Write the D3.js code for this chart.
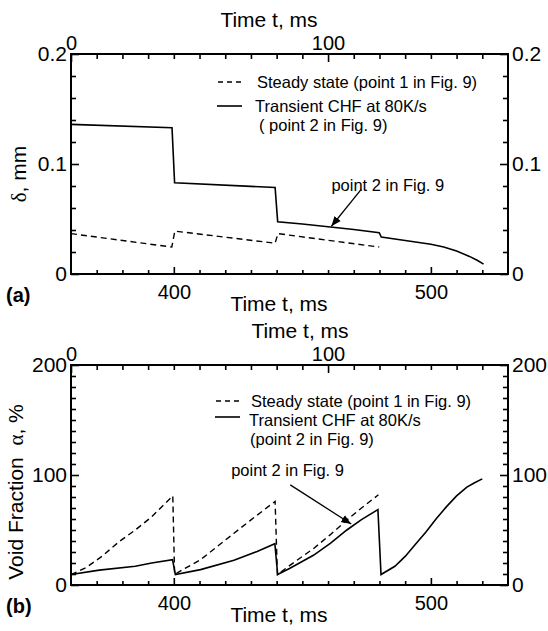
<!DOCTYPE html>
<html>
<head>
<meta charset="utf-8">
<script src="https://cdn.jsdelivr.net/npm/d3@7"></script>
<style>
  body { margin: 0; background: #fff; }
  svg { display: block; font-family: "Liberation Sans", Arial, sans-serif; }
  text { white-space: pre; }
</style>
</head>
<body>
<svg id="chart" width="548" height="631"></svg>
<script>
// Time axis, ms (bottom = absolute, top = elapsed)
const timeDomain = [360, 530];
const elapsedDomain = [0, 170];
const timeLabels = [400, 500];
const elapsedLabels = [0, 100];
const timeMinor = [370, 380, 390, 410, 420, 430, 440, 450, 460, 470, 480, 490, 510, 520];
const elapsedMinor = [10, 20, 30, 40, 50, 60, 70, 80, 90, 110, 120, 130, 140, 150, 160];

// Panel (a): liquid film thickness delta, mm
const deltaLabels = [0, 0.1, 0.2];
const deltaMinor = [0.02, 0.04, 0.06, 0.08, 0.12, 0.14, 0.16, 0.18];
const deltaSteady = [[360, 0.0367], [399.2, 0.0245], [400.4, 0.039], [439.4, 0.028], [440.5, 0.0367], [479.9, 0.0245]];
const deltaTransient = [[360, 0.136], [399.3, 0.133], [400.3, 0.083], [439.4, 0.0786], [440.4, 0.0474],
  [450, 0.0455], [460, 0.043], [470, 0.0405], [479.9, 0.0376], [480.7, 0.0336], [490, 0.0305],
  [500, 0.027], [505, 0.0245], [510, 0.021], [515, 0.016], [518, 0.0125], [520.5, 0.009]];

// Panel (b): void fraction alpha, %
const voidLabels = [0, 100, 200];
const voidMinor = [10, 20, 30, 40, 50, 60, 70, 80, 90, 110, 120, 130, 140, 150, 160, 170, 180, 190];
const voidSteady = [[360, 9.5], [366, 16], [372, 26], [378.5, 39], [385, 50], [391.4, 62], [399.6, 81],
  [400.3, 9.5], [402, 12], [410.4, 23], [416.9, 35], [423.4, 47], [429.9, 59], [439.4, 76],
  [440.3, 9.5], [447, 21], [454.3, 33], [461, 46], [467.3, 59], [473, 70], [479.6, 82]];
const voidTransient = [[360, 9.5], [371, 13.5], [385, 17], [391.4, 20], [399.5, 23], [400.6, 9.5],
  [410.4, 14], [423.4, 22.5], [432.4, 30.5], [439.3, 37.5], [440.4, 9.5], [445, 15], [454.3, 27],
  [461, 38], [467.3, 50], [473, 59.5], [479.4, 68.5], [480.6, 9.5], [486, 17], [490, 26], [494, 37],
  [498, 48], [502, 60], [506, 71], [510, 81], [514, 89], [517, 93], [520, 96.5]];

const legendSteady = "Steady state (point 1 in Fig. 9)";
const legendTransient = "Transient CHF at 80K/s";

const svg = d3.select("#chart");
const x0 = 71, x1 = 508, panelH = 220;

svg.append("defs").append("marker")
    .attr("id", "arrow")
    .attr("markerUnits", "userSpaceOnUse")
    .attr("markerWidth", 12).attr("markerHeight", 12)
    .attr("refX", 10).attr("refY", 5)
    .attr("orient", "auto")
  .append("path")
    .attr("d", "M0,1 L10,5 L0,9 Z")
    .attr("fill", "#000");

function styleAxis(g, size) {
    g.select(".domain").remove();
    g.selectAll(".tick line").attr("stroke", "#000").attr("stroke-width", 1.6);
    g.selectAll("text").attr("fill", "#000").attr("font-size", size)
        .attr("font-family", "'Liberation Sans', Arial, sans-serif");
}

function drawPanel(p) {
    const g = svg.append("g").attr("transform", "translate(0," + p.top + ")");
    const x = d3.scaleLinear().domain(timeDomain).range([x0, x1]);
    const xt = d3.scaleLinear().domain(elapsedDomain).range([x0, x1]);
    const y = d3.scaleLinear().domain([p.labels[0], p.labels[2]]).range([panelH, 0]);

    // minor + major ticks, all pointing inward
    g.append("g").attr("transform", "translate(0," + panelH + ")")
        .call(d3.axisBottom(x).tickValues(timeMinor).tickSize(-4).tickFormat(""))
        .call(styleAxis, 20);
    g.append("g").attr("transform", "translate(0," + panelH + ")")
        .call(d3.axisBottom(x).tickValues(timeLabels).tickSize(-7).tickPadding(11))
        .call(styleAxis, 20);
    g.append("g")
        .call(d3.axisTop(xt).tickValues(elapsedMinor).tickSize(-5).tickFormat(""))
        .call(styleAxis, 20);
    g.append("g")
        .call(d3.axisTop(xt).tickValues(elapsedLabels).tickSize(-8).tickPadding(4))
        .call(styleAxis, 20);
    [["L", x0], ["R", x1]].forEach(function (side) {
        const mk = side[0] === "L" ? d3.axisLeft : d3.axisRight;
        g.append("g").attr("transform", "translate(" + side[1] + ",0)")
            .call(mk(y).tickValues(p.minor).tickSize(-5).tickFormat(""))
            .call(styleAxis, 20);
        g.append("g").attr("transform", "translate(" + side[1] + ",0)")
            .call(mk(y).tickValues(p.labels).tickSize(-8).tickPadding(4).tickFormat(p.fmt))
            .call(styleAxis, 21);
    });

    g.append("rect")
        .attr("x", x0).attr("y", 0)
        .attr("width", x1 - x0).attr("height", panelH)
        .attr("fill", "none").attr("stroke", "#000").attr("stroke-width", 2);

    const line = d3.line().x(d => x(d[0])).y(d => y(d[1]));
    g.append("path").datum(p.steady).attr("d", line)
        .attr("fill", "none").attr("stroke", "#000").attr("stroke-width", 1.4)
        .attr("stroke-dasharray", "6,4");
    g.append("path").datum(p.transient).attr("d", line)
        .attr("fill", "none").attr("stroke", "#000").attr("stroke-width", 1.6);

    // axis titles
    g.append("text").attr("x", p.topTitleX).attr("y", -27)
        .attr("text-anchor", "middle").attr("font-size", 21).text("Time t, ms");
    g.append("text").attr("x", 279).attr("y", panelH + 37)
        .attr("text-anchor", "middle").attr("font-size", 21).text("Time t, ms");
    const yt = g.append("text")
        .attr("transform", "translate(" + p.yTitleX + "," + p.yTitleY + ") rotate(-90)")
        .attr("text-anchor", "middle").attr("font-size", 21);
    yt.append("tspan").text(p.yTitle[0]);
    yt.append("tspan").attr("font-family", "'Liberation Serif', serif").text(p.yTitle[1]);
    yt.append("tspan").text(p.yTitle[2]);
    g.append("text").attr("x", 6).attr("y", panelH + 28)
        .attr("font-size", 20).attr("font-weight", "bold").text(p.tag);

    // legend
    const lg = p.legend;
    g.append("line").attr("x1", lg.sx).attr("x2", lg.sx + 25).attr("y1", lg.y1).attr("y2", lg.y1)
        .attr("stroke", "#000").attr("stroke-width", 1.4).attr("stroke-dasharray", "5,4");
    g.append("text").attr("x", lg.tx).attr("y", lg.y1 + 6).attr("font-size", 16.5).text(legendSteady);
    g.append("line").attr("x1", lg.sx - 1).attr("x2", lg.sx + 24).attr("y1", lg.ys).attr("y2", lg.ys)
        .attr("stroke", "#000").attr("stroke-width", 1.6);
    g.append("text").attr("x", lg.tx - 2).attr("y", lg.y2 + 6).attr("font-size", 16.5).text(legendTransient);
    g.append("text").attr("x", lg.tx3).attr("y", lg.y3 + 6).attr("font-size", 16.5).text(lg.third);

    // annotation with arrow
    const an = p.note;
    g.append("text").attr("x", x(an.text[0])).attr("y", y(an.text[1]) + 6)
        .attr("font-size", 16.5).text("point 2 in Fig. 9");
    g.append("line")
        .attr("x1", x(an.from[0])).attr("y1", y(an.from[1]))
        .attr("x2", x(an.to[0])).attr("y2", y(an.to[1]))
        .attr("stroke", "#000").attr("stroke-width", 1.3)
        .attr("marker-end", "url(#arrow)");
}

drawPanel({
    top: 54, labels: deltaLabels, minor: deltaMinor, fmt: d => d === 0 ? "0" : String(d),
    steady: deltaSteady, transient: deltaTransient, tag: "(a)",
    topTitleX: 269, yTitle: ["", "\u03b4", ", mm"], yTitleX: 26, yTitleY: 120,
    legend: { sx: 218, tx: 257, tx3: 259, y1: 28, ys: 52, y2: 52, y3: 71, third: "( point 2 in Fig. 9)" },
    note: { text: [461.3, 0.081], from: [472.9, 0.077], to: [461.3, 0.0434] }
});
drawPanel({
    top: 365, labels: voidLabels, minor: voidMinor, fmt: d => String(d),
    steady: voidSteady, transient: voidTransient, tag: "(b)",
    topTitleX: 300, yTitle: ["Void Fraction  ", "\u03b1", ", %"], yTitleX: 23, yTitleY: 127,
    legend: { sx: 216, tx: 251, tx3: 250, y1: 36, ys: 52, y2: 55, y3: 74, third: "(point 2 in Fig. 9)" },
    note: { text: [422.3, 104.6], from: [445.3, 91], to: [469, 55.5] }
});
</script>
</body>
</html>
